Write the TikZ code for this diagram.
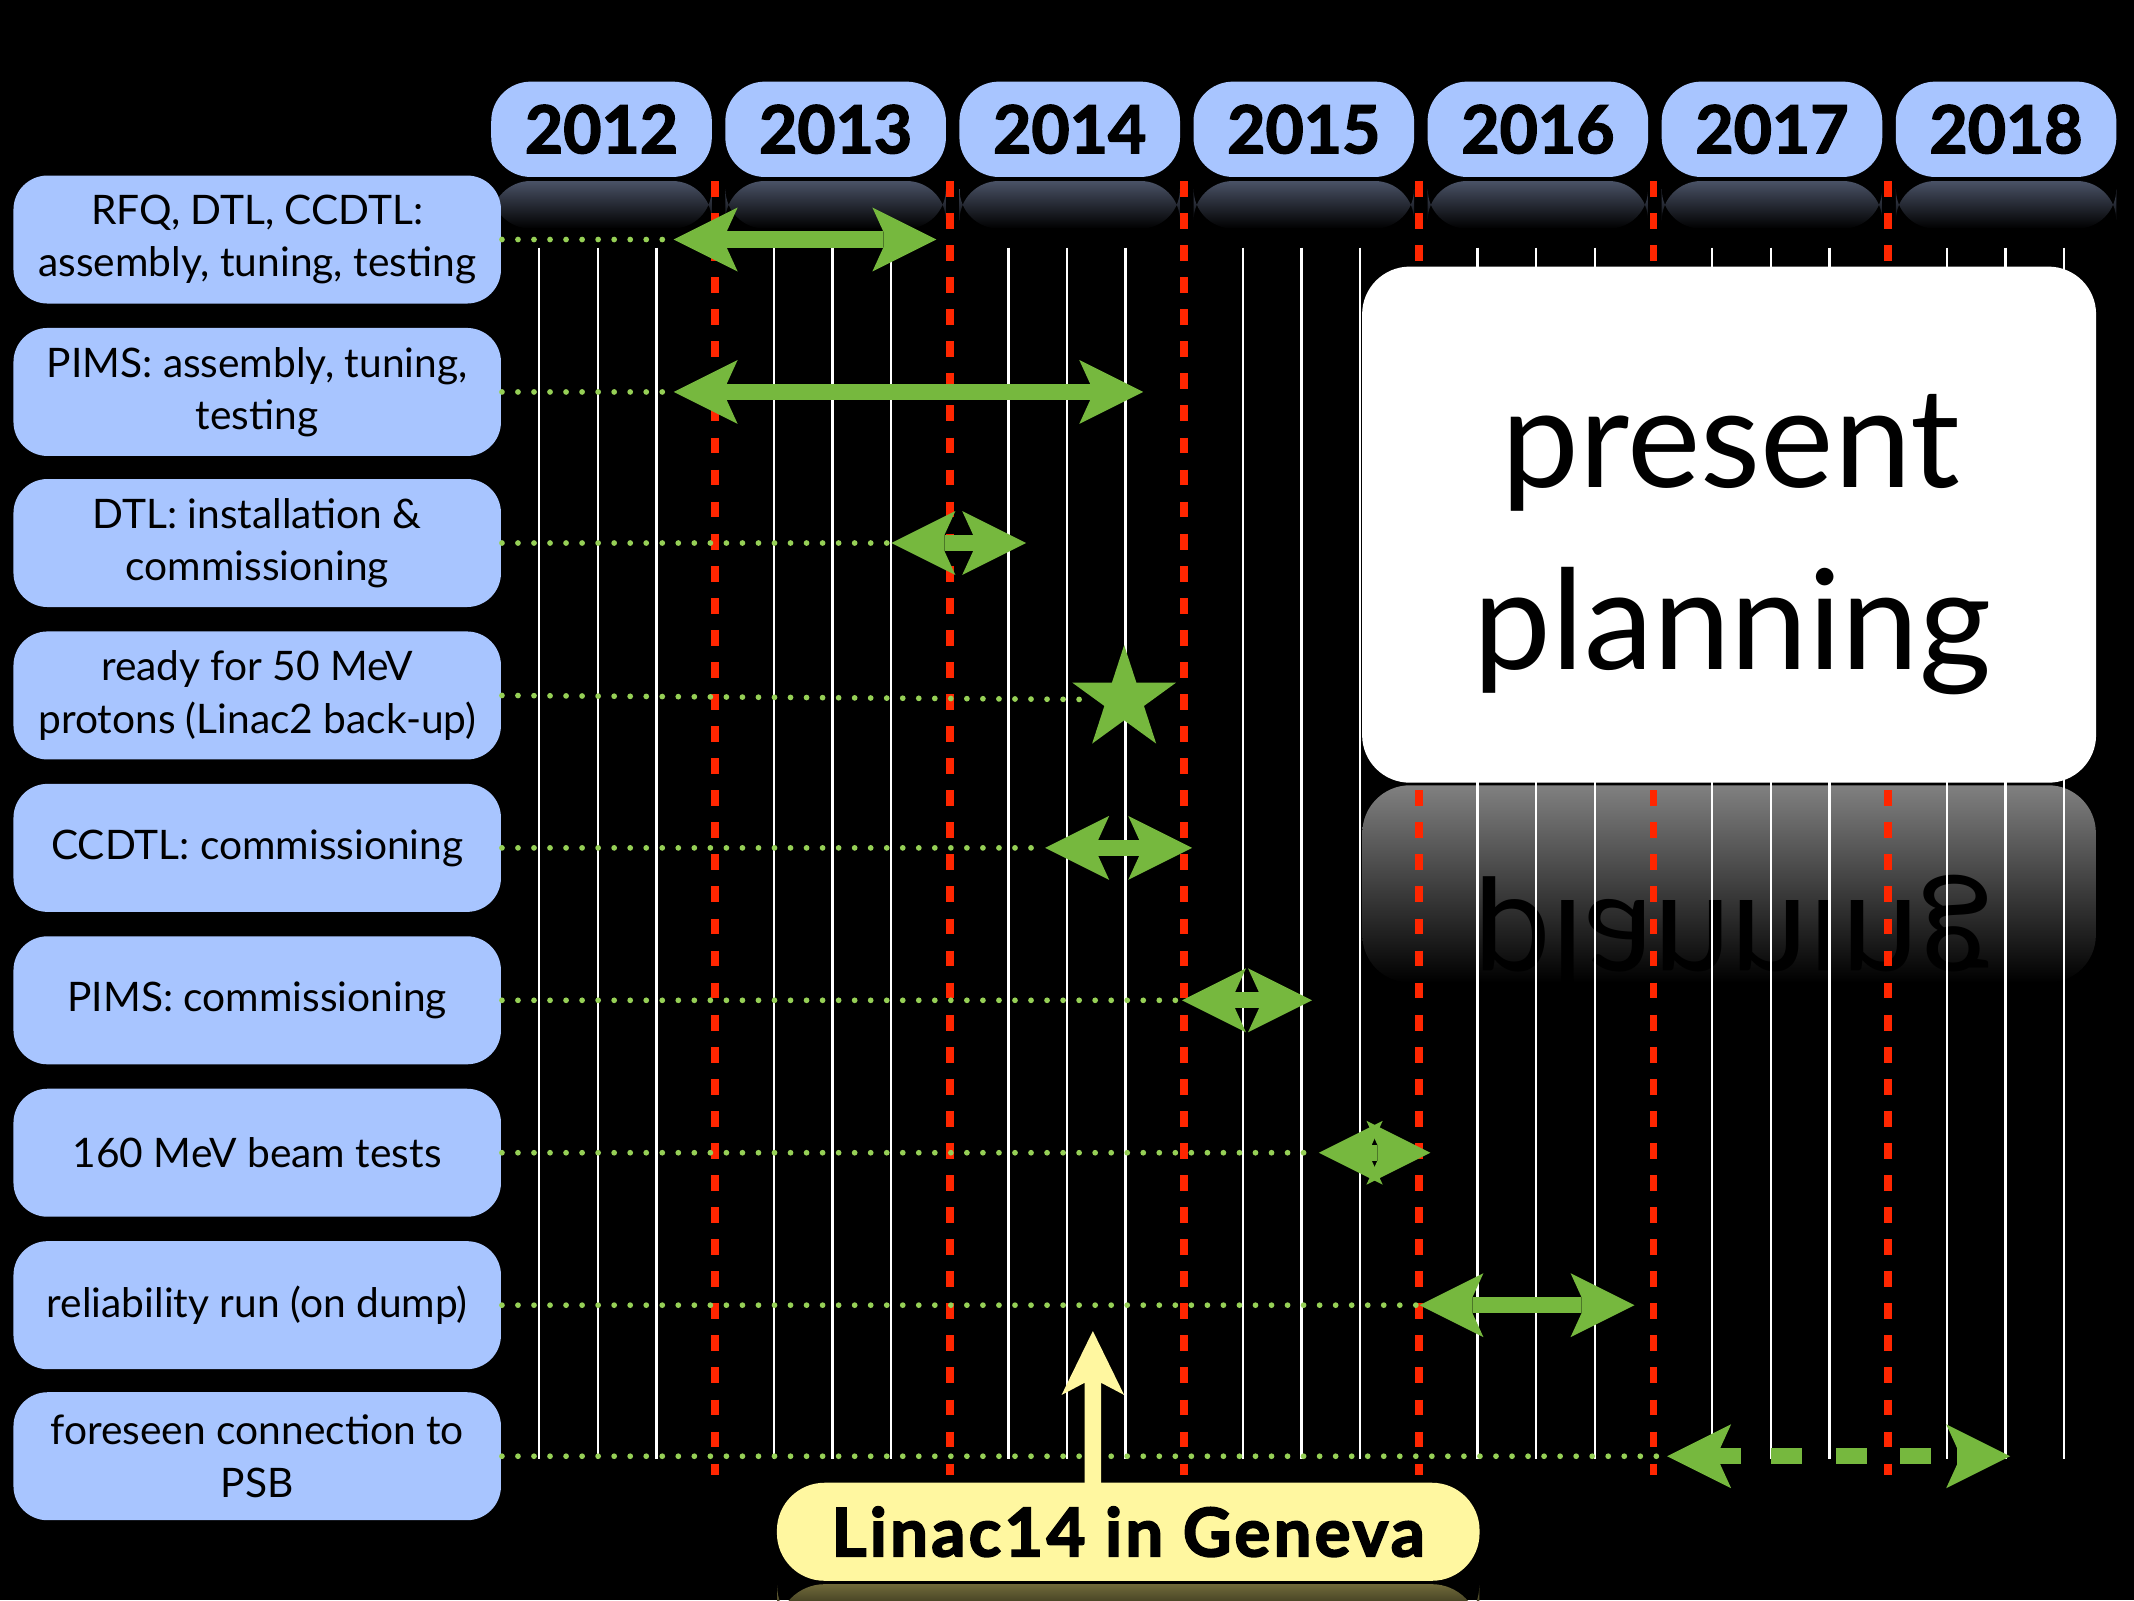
\documentclass[tikz,border=0pt]{standalone}
\usepackage{fontspec}
\setmainfont{Lato}
\newfontfamily\heavyfont{Lato}[BoldFeatures={FakeBold=2.2}]
\newfontfamily\widefont{Lato}[BoldFeatures={FakeBold=2.6}, LetterSpace=5]
\usetikzlibrary{shapes.geometric}

\definecolor{boxblue}{RGB}{168,197,255}
\definecolor{arrowgreen}{RGB}{118,184,62}
\definecolor{dotgreen}{RGB}{150,208,86}
\definecolor{dashred}{RGB}{255,38,0}
\definecolor{linyellow}{RGB}{255,247,160}
\definecolor{reflblue}{RGB}{74,82,102}
\definecolor{reflgray}{RGB}{128,128,128}
\definecolor{reflyellow}{RGB}{112,106,58}

% size of the green arrow heads
\def\headlen{47}
\def\headin{8}
\def\headwd{23.5}
\def\shaftwd{6}

% two arrow heads: #1 name of the start, #2 start, #3 end, #4 row
\newcommand{\arrowheads}[4]{%
  \coordinate (#1) at (#2,#4);
  \fill[arrowgreen] (#2,#4) -- (#2+\headlen,#4-\headwd) -- (#2+\headlen-\headin,#4-\shaftwd)
    -- (#2+\headlen-\headin,#4+\shaftwd) -- (#2+\headlen,#4+\headwd) -- cycle;
  \fill[arrowgreen] (#3,#4) -- (#3-\headlen,#4-\headwd) -- (#3-\headlen+\headin,#4-\shaftwd)
    -- (#3-\headlen+\headin,#4+\shaftwd) -- (#3-\headlen,#4+\headwd) -- cycle;}
% double arrow with a full shaft
\newcommand{\spanarrow}[4]{%
  \arrowheads{#1}{#2}{#3}{#4}
  \fill[arrowgreen] (#2+\headlen-\headin,#4-\shaftwd) rectangle (#3-\headlen+\headin,#4+\shaftwd);}

\begin{document}
\begin{tikzpicture}[x=0.01cm, y=-0.01cm,
    taskbox/.style={fill=boxblue, rounded corners=2.5mm, minimum width=3.58cm,
      minimum height=0.94cm, inner sep=0pt, align=center,
      font=\fontsize{8.5}{10.9}\selectfont},
    yearbox/.style={fill=boxblue, rounded corners=2.9mm, minimum width=1.62cm,
      minimum height=0.7cm, inner sep=0pt,
      font=\heavyfont\bfseries\fontsize{13.8}{16}\selectfont},
    planbox/.style={fill=white, rounded corners=3.5mm, minimum width=5.39cm,
      minimum height=3.79cm},
    plantext/.style={anchor=base, inner sep=0pt, font=\fontsize{29}{34}\selectfont},
    linbox/.style={fill=linyellow, rounded corners=3.5mm, minimum width=5.16cm,
      minimum height=0.72cm, inner sep=0pt,
      font=\widefont\bfseries\fontsize{14}{16}\selectfont},
    dotline/.style={dotgreen, line width=1.2pt, line cap=round,
      dash pattern=on 0pt off 3.35pt},
    yearline/.style={dashred, line width=1.6pt, dash pattern=on 3.3pt off 3.4pt},
    quarterline/.style={white, line width=0.5pt}]

  % black slide
  \fill[black] (0,0) rectangle (1568,1176);
  \useasboundingbox (0,0) rectangle (1568,1176);

  % reflections below the boxes
  \foreach \i in {0,...,6}
    \shade[top color=reflblue, bottom color=black, rounded corners=2.9mm]
      (361+172*\i,133) rectangle (523+172*\i,168);
  \shade[top color=reflgray, bottom color=black, rounded corners=3.5mm]
    (1001,577) rectangle (1540,722);
  \node[plantext, yscale=-1, text=black] (mirror) at (1273,662) {planning};
  \shade[top color=reflyellow, bottom color=black, rounded corners=3.5mm]
    (571,1164) rectangle (1087,1200);

  % quarter lines and year lines
  \foreach \yr in {0,...,6}
    \foreach \q in {1,2,3}
      \draw[quarterline] (353+172.4*\yr+43.1*\q,182) -- (353+172.4*\yr+43.1*\q,1072);
  \foreach \yr in {1,...,6}
    \draw[yearline] (353+172.4*\yr,133) -- (353+172.4*\yr,1084);

  % years
  \foreach \yr [count=\i from 0] in {2012,...,2018}
    \node[yearbox] (y\yr) at (442+172*\i,95) {\yr};

  % tasks
  \node[taskbox] (l1) at (189,176) {RFQ, DTL, CCDTL:\\assembly, tuning, testing};
  \node[taskbox] (l2) at (189,288) {PIMS: assembly, tuning,\\testing};
  \node[taskbox] (l3) at (189,399) {DTL: installation \&\\commissioning};
  \node[taskbox] (l4) at (189,511) {ready for 50 MeV\\protons (Linac2 back-up)};
  \node[taskbox] (l5) at (189,623) {CCDTL: commissioning};
  \node[taskbox] (l6) at (189,735) {PIMS: commissioning};
  \node[taskbox] (l7) at (189,847) {160 MeV beam tests};
  \node[taskbox] (l8) at (189,959) {reliability run (on dump)};
  \node[taskbox] (l9) at (189,1070) {foreseen connection to\\PSB};

  % time spans
  \spanarrow{t1}{495}{688}{176}
  \spanarrow{t2}{495}{840}{288}
  \spanarrow{t3}{655}{754}{399}
  \spanarrow{t5}{768}{876}{623}
  \spanarrow{t6}{868.5}{964}{735}
  \spanarrow{t7}{969}{1051}{847}
  \spanarrow{t8}{1043}{1201}{959}
  \arrowheads{t9}{1225}{1477}{1070}
  \fill[arrowgreen] (1225+\headlen-\headin,1070-\shaftwd) rectangle (1279,1070+\shaftwd);
  \foreach \x in {1301,1349,1396}
    \fill[arrowgreen] (\x,1070-\shaftwd) rectangle ++(23,2*\shaftwd);
  \node[star, star points=5, star point ratio=2.618, minimum size=0.8cm,
    inner sep=0pt, fill=arrowgreen] (ready) at (826,514) {};

  \foreach \t in {1,2,3,5,6,7,8,9}
    \draw[dotline] (l\t.east) -- (t\t);
  \draw[dotline] (l4.east) -- (ready.west);

  % planning box
  \node[planbox] (plan) at (1270.5,385.5) {};
  \node[plantext] (pres) at (1272,358.5) {present};
  \node[plantext] (plng) at (1273,492) {planning};

  % Linac14 arrow and box
  \coordinate (lintip) at (803,978);
  \fill[linyellow] (lintip) -- ++(23,47) -- ++(-17,-9) -- ++(0,90) -- ++(-12,0)
    -- ++(0,-90) -- ++(-17,9) -- cycle;
  \node[linbox] (lin) at (829,1125.5) {Linac14 in Geneva};
\end{tikzpicture}
\end{document}
